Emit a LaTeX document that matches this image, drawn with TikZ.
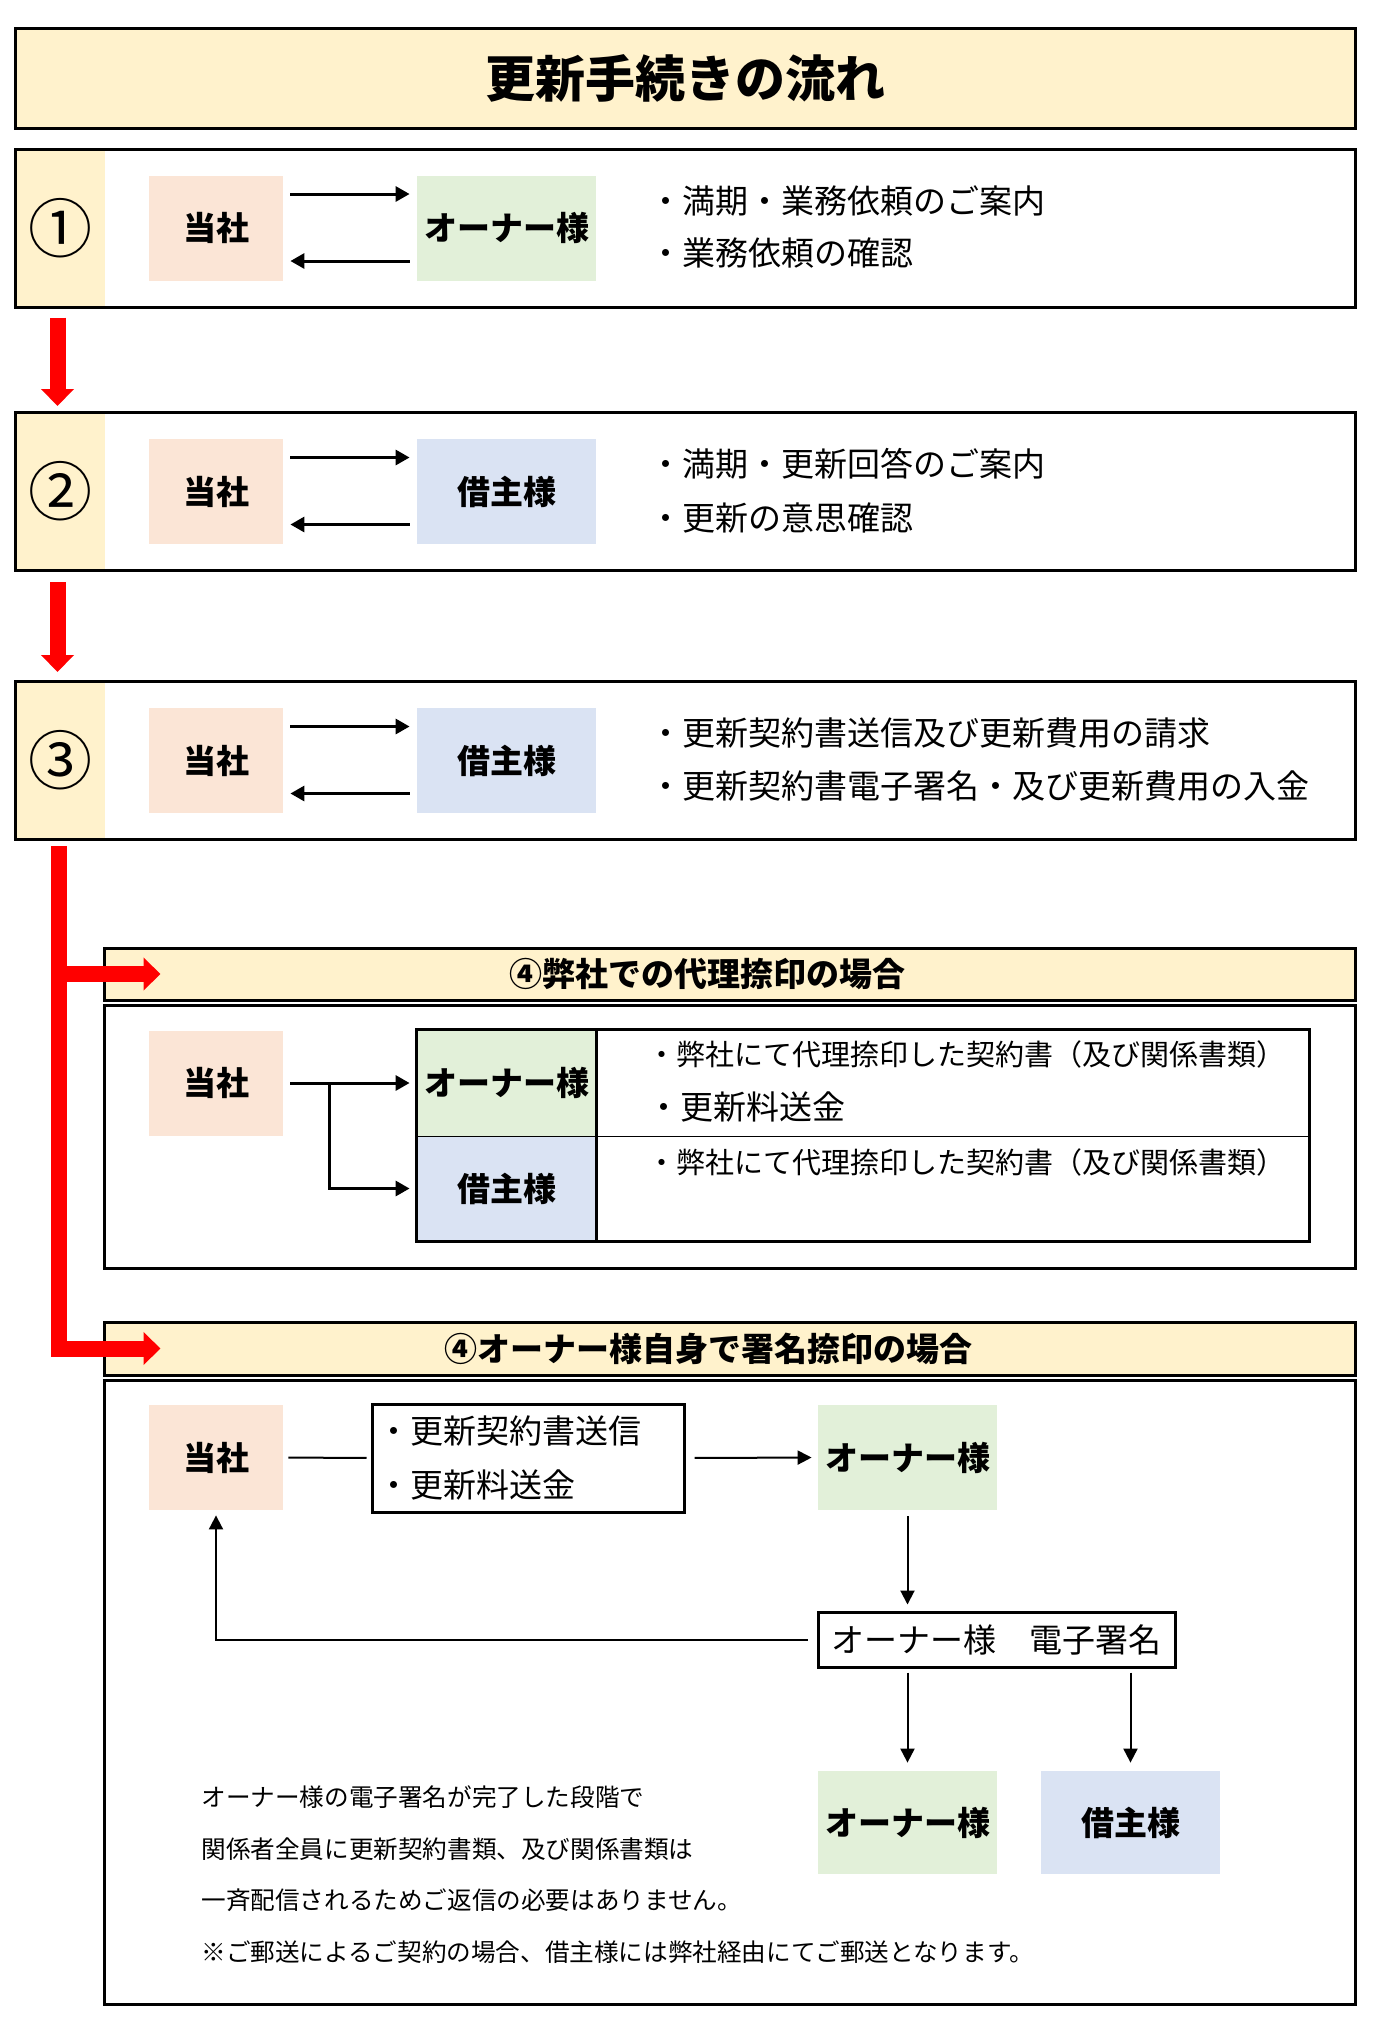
\documentclass[tikz,border=0pt]{standalone}
\usepackage{fontspec}
\setmainfont{Noto Sans CJK JP}
\usepackage{xcolor}
\usepackage{tikz}
\usetikzlibrary{positioning,calc,arrows.meta}

\definecolor{hdryellow}{HTML}{FFF2CC}
\definecolor{toshapink}{HTML}{FBE5D6}
\definecolor{ownergreen}{HTML}{E2F0D9}
\definecolor{tenantblue}{HTML}{DAE3F3}
\definecolor{flowred}{HTML}{FF0000}

\tikzset{
  party/.style={minimum height=52.5pt, inner sep=0pt, font=\bfseries\fontsize{16.5}{20}\selectfont},
  tosha/.style={party, fill=toshapink, minimum width=67pt},
  owner/.style={party, fill=ownergreen, minimum width=89.5pt},
  tenant/.style={party, fill=tenantblue, minimum width=89.5pt},
  stepbox/.style={draw, line width=1.5pt, minimum width=670pt, minimum height=79pt, inner sep=0pt,
    path picture={\fill[hdryellow] (path picture bounding box.north west) rectangle ([xshift=45pt]path picture bounding box.south west);}},
  stepnum/.style={font=\fontsize{32}{32}\selectfont},
  note/.style={anchor=west, inner sep=0pt, font=\fontsize{16.5}{20}\selectfont},
  link/.style={line width=1.5pt, -{Triangle[length=7pt,width=7.5pt]}},
  flow/.style={line width=1pt, -{Triangle[length=7pt,width=7pt]}},
  redflow/.style={draw=flowred, line width=8pt, -{Triangle[length=8.5pt,width=16pt]}},
  secbar/.style={draw, line width=1.5pt, fill=hdryellow, minimum width=625.5pt, minimum height=26pt, inner sep=0pt},
  secbody/.style={draw, line width=1.5pt, minimum width=625.5pt, inner sep=0pt},
  sectitle/.style={font=\bfseries\fontsize{16.5}{20}\selectfont},
}

\begin{document}
\begin{tikzpicture}[x=0.5pt, y=-0.5pt]
    \useasboundingbox (0,0) rectangle (1391,2031);
    % Title
    \node[draw, line width=1.5pt, fill=hdryellow, minimum width=670pt, minimum height=50pt, inner sep=0pt,
          font=\bfseries\fontsize{25}{30}\selectfont] (title) at (685,78) {更新手続きの流れ};

    % Step 1
    \node[stepbox] (s1) at (685,228) {};
    \node[stepnum] (n1) at (60,228) {①};
    \node[tosha] (t1) at (216,228) {当社};
    \node[owner] (o1) at (506.5,228) {オーナー様};
    \draw[link, shorten <=3.5pt, shorten >=3.5pt] ([yshift=17pt]t1.east) -- ([yshift=17pt]o1.west);
    \draw[link, shorten <=3.5pt, shorten >=3.5pt] ([yshift=-16.5pt]o1.west) -- ([yshift=-16.5pt]t1.east);
    \node[note] (d1a) at (649,201) {・満期・業務依頼のご案内};
    \node[note] (d1b) at (649,253) {・業務依頼の確認};

    % Step 2
    \node[stepbox] (s2) at (685,491.5) {};
    \node[stepnum] (n2) at (60,491.5) {②};
    \node[tosha] (t2) at (216,491.5) {当社};
    \node[tenant] (r2) at (506.5,491.5) {借主様};
    \draw[link, shorten <=3.5pt, shorten >=3.5pt] ([yshift=17pt]t2.east) -- ([yshift=17pt]r2.west);
    \draw[link, shorten <=3.5pt, shorten >=3.5pt] ([yshift=-16.5pt]r2.west) -- ([yshift=-16.5pt]t2.east);
    \node[note] (d2a) at (649,464) {・満期・更新回答のご案内};
    \node[note] (d2b) at (649,518) {・更新の意思確認};

    % Step 3
    \node[stepbox] (s3) at (685,760.5) {};
    \node[stepnum] (n3) at (60,760.5) {③};
    \node[tosha] (t3) at (216,760.5) {当社};
    \node[tenant] (r3) at (506.5,760.5) {借主様};
    \draw[link, shorten <=3.5pt, shorten >=3.5pt] ([yshift=17pt]t3.east) -- ([yshift=17pt]r3.west);
    \draw[link, shorten <=3.5pt, shorten >=3.5pt] ([yshift=-16.5pt]r3.west) -- ([yshift=-16.5pt]t3.east);
    \node[note] (d3a) at (649,733) {・更新契約書送信及び更新費用の請求};
    \node[note] (d3b) at (649,786) {・更新契約書電子署名・及び更新費用の入金};

    % Red arrows between steps
    \draw[redflow, shorten <=4.5pt, shorten >=2.5pt] ([xshift=22pt]s1.south west) -- ([xshift=22pt]s2.north west);
    \draw[redflow, shorten <=5pt, shorten >=4pt] ([xshift=22pt]s2.south west) -- ([xshift=22pt]s3.north west);

    % Case 4a: proxy seal
    \node[secbar] (h4) at (729.5,974) {};
    \node[sectitle] (h4t) at (707,974) {④弊社での代理捺印の場合};
    \node[secbody, minimum height=131.5pt] (b4) at (729.5,1136.5) {};
    \node[tosha] (t4) at (216,1083) {当社};
    \node[owner, minimum height=53pt] (o4) at (506.5,1083) {オーナー様};
    \node[tenant] (r4) at (506.5,1188.5) {借主様};
    \node[minimum width=356.5pt, minimum height=53pt, inner sep=0pt] (c4a) at (952.5,1083) {};
    \node[minimum width=356.5pt, minimum height=52.5pt, inner sep=0pt] (c4b) at (952.5,1188.5) {};
    \draw[line width=1.5pt] (o4.north west) rectangle (c4b.south east);
    \draw[line width=1.5pt] (o4.north east) -- (r4.south east);
    \draw[line width=0.75pt] (o4.south west) -- (c4a.south east);
    \node[note, font=\fontsize{14.5}{18}\selectfont] (d4a) at (647,1054) {・弊社にて代理捺印した契約書（及び関係書類）};
    \node[note] (d4b) at (647,1107) {・更新料送金};
    \node[note, font=\fontsize{14.5}{18}\selectfont] (d4c) at (647,1162) {・弊社にて代理捺印した契約書（及び関係書類）};
    \coordinate (fork) at (329,1083);
    \draw[link, shorten <=3.5pt, shorten >=3.5pt] (t4.east) -- (o4.west);
    \draw[link, shorten >=3.5pt] (fork) |- (r4.west);

    % Case 4b: owner signs
    \node[secbar, minimum height=26.5pt] (h5) at (729.5,1348.5) {};
    \node[sectitle] (h5t) at (708,1348.5) {④オーナー様自身で署名捺印の場合};
    \node[secbody, minimum height=312pt] (b5) at (729.5,1692) {};
    \node[tosha] (t5) at (216,1457.5) {当社};
    \node[draw, line width=1.5pt, minimum height=54pt, text width=151pt, inner xsep=2.5pt, inner ysep=0pt,
          align=left, font=\fontsize{16.5}{27}\selectfont] (send) at (528,1458) {・更新契約書送信\\・更新料送金};
    \node[owner] (o5) at (907.5,1457.5) {オーナー様};
    \node[draw, line width=1.5pt, minimum width=178.5pt, minimum height=27.5pt, inner sep=0pt,
          font=\fontsize{16.5}{20}\selectfont] (sig) at (996.5,1639.5) {オーナー様　電子署名};
    \node[owner, minimum height=51.5pt] (o6) at (907.5,1822.5) {オーナー様};
    \node[tenant, minimum height=51.5pt] (r6) at (1130.5,1822.5) {借主様};
    \draw[line width=1pt, shorten <=2.5pt, shorten >=2pt] (t5.east) -- (send.west);
    \draw[flow, shorten <=4.5pt, shorten >=3pt] (send.east) -- (o5.west);
    \draw[flow, shorten <=3pt, shorten >=3pt] (o5.south) -- (o5.south |- sig.north);
    \draw[flow, shorten <=4.5pt, shorten >=2.5pt] (sig.west) -| (t5.south);
    \draw[flow, shorten <=2pt, shorten >=4pt] (o6.north |- sig.south) -- (o6.north);
    \draw[flow, shorten <=2pt, shorten >=4pt] (r6.north |- sig.south) -- (r6.north);
    \node[note, font=\fontsize{12.3}{15}\selectfont] (m1) at (201,1797) {オーナー様の電子署名が完了した段階で};
    \node[note, font=\fontsize{12.3}{15}\selectfont] (m2) at (201,1849) {関係者全員に更新契約書類、及び関係書類は};
    \node[note, font=\fontsize{12.3}{15}\selectfont] (m3) at (201,1900) {一斉配信されるためご返信の必要はありません。};
    \node[note, font=\fontsize{12.3}{15}\selectfont] (m4) at (201,1952) {※ご郵送によるご契約の場合、借主様には弊社経由にてご郵送となります。};

    % Red flow to the two cases
    \coordinate (rtop) at (59,846);
    \draw[redflow] (rtop |- h4.west) -- ([xshift=29pt]h4.west);
    \draw[redflow] (rtop) |- ([xshift=29pt]h5.west);
\end{tikzpicture}
\end{document}
